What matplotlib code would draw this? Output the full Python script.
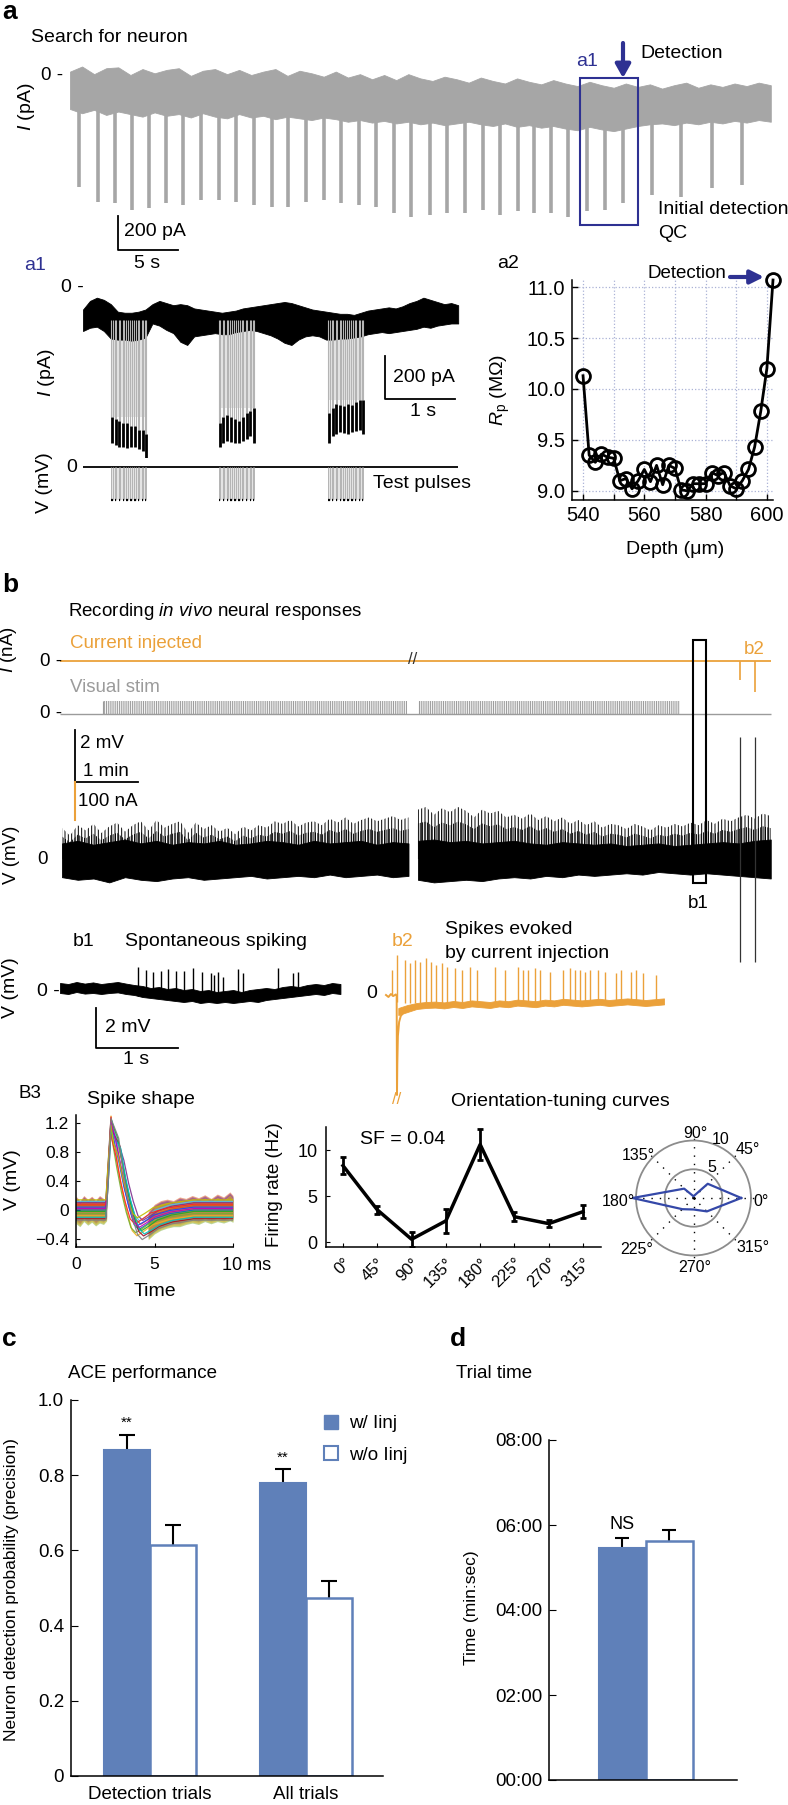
import numpy as np
import matplotlib
matplotlib.use('Agg')
import matplotlib.pyplot as plt
from matplotlib.patches import Rectangle, Patch
from matplotlib.ticker import FuncFormatter

plt.rcParams.update({
    'font.family': ['Liberation Sans', 'DejaVu Sans'],
    'mathtext.fontset': 'custom',
    'mathtext.rm': 'Liberation Sans',
    'mathtext.it': 'Liberation Sans:italic',
    'hatch.linewidth': 0.7,
    'axes.linewidth': 1.1,
})

# ---------------- data ----------------
a_upper = [20, 50, 5, 40, 45, 0, 35, 10, 30, 40, -5, 25, 35, 5, 30, 0, 20, 35, -5, 25,
           10, -10, 20, -15, 5, -25, 0, -30, 5, -20, -35, -10, -25, -45, -15, -35, -50, -20, -40, -55,
           -30, -50, -65, -40, -60, -75, -50, -70, -55, -80, -60, -45, -75, -55, -70, -50, -65, -45, -60]
a_lower = [-200, -225, -205, -235, -215, -230, -245, -220, -240, -230, -250, -225, -245, -255, -230, -250, -240, -260, -245, -255,
           -265, -250, -260, -275, -265, -280, -270, -285, -275, -290, -280, -295, -285, -275, -290, -300, -285, -305, -295, -310,
           -300, -315, -325, -305, -320, -330, -315, -300, -290, -285, -295, -280, -290, -275, -285, -270, -280, -265, -275]
a_pulse_t = [0.78, 2.33, 3.71, 5.14, 6.6, 7.99, 9.45, 10.9, 12.4, 13.8, 15.3, 16.8, 18.2, 19.7, 21.2, 22.6, 24.1, 25.5,
             27.0, 28.4, 30.0, 31.4, 32.9, 34.4, 35.8, 37.3, 38.7, 40.1, 41.5, 43.1, 44.6, 46.1, 48.5, 50.9, 53.5, 56.0]
a_pulse_bottom = [-659, -745, -753, -794, -782, -753, -765, -735, -735, -745, -765, -775, -775, -745, -735, -753, -765, -775,
                  -812, -835, -824, -812, -812, -794, -824, -800, -812, -812, -835, -800, -794, -753, -706, -718, -665, -647]

a1_upper = [-100, -60, -45, -55, -75, -110, -115, -115, -110, -100, -75, -60, -70, -80, -75, -80, -95, -100, -105, -110,
            -115, -110, -105, -95, -90, -85, -80, -75, -70, -65, -70, -80, -90, -100, -105, -110, -115, -120, -120, -125,
            -115, -105, -100, -95, -90, -95, -85, -70, -60, -45, -55, -65, -75, -70, -80]
a1_lower = [-200, -185, -180, -200, -235, -240, -240, -245, -240, -230, -165, -175, -195, -210, -250, -265, -225, -220, -215, -210,
            -215, -215, -205, -200, -195, -200, -210, -220, -235, -255, -265, -240, -225, -220, -225, -240, -240, -235, -235, -230,
            -225, -215, -210, -205, -210, -205, -200, -195, -190, -180, -185, -175, -170, -165, -165]
a1_bursts = [[0.40, 0.455, 0.51, 0.565, 0.62, 0.675, 0.73, 0.785, 0.84, 0.885],
             [1.94, 1.995, 2.05, 2.105, 2.16, 2.215, 2.27, 2.325, 2.38, 2.425],
             [3.50, 3.555, 3.61, 3.665, 3.72, 3.775, 3.83, 3.885, 3.94, 3.985]]
a1_pulse_top = [[-600, -610, -620, -630, -630, -640, -640, -660, -660, -680],
                [-630, -600, -590, -600, -610, -620, -600, -580, -570, -560],
                [-580, -560, -540, -545, -550, -540, -545, -530, -520, -520]]
a1_pulse_bot = [[-720, -730, -740, -740, -745, -740, -740, -750, -760, -790],
                [-740, -720, -710, -715, -720, -720, -710, -700, -690, -720],
                [-720, -690, -680, -670, -675, -680, -670, -665, -660, -680]]
a1_test_pulse_mV = -10

depth_um = [540, 542, 544, 546, 548, 550, 552, 554, 556, 558, 560, 562, 564, 566, 568, 570,
            572, 574, 576, 578, 580, 582, 584, 586, 588, 590, 592, 594, 596, 598, 600, 602]
rp_mohm = [10.13, 9.35, 9.28, 9.36, 9.33, 9.32, 9.10, 9.12, 9.02, 9.10, 9.21, 9.09, 9.25, 9.06, 9.25, 9.22,
           9.01, 9.00, 9.07, 9.07, 9.07, 9.18, 9.15, 9.18, 9.05, 9.02, 9.10, 9.21, 9.43, 9.78, 10.20, 11.07]

b_cur_spike_t = [10.76, 11.0]
b_cur_spike_nA = [-50, -82]
b_stim_blocks = [(0.65, 5.48), (5.67, 9.81)]
b_seg1 = (0.0, 5.5)
b_seg2 = (5.65, 11.25)
b_up1 = [0.6, 0.7, 0.55, 0.65, 0.75, 0.6, 0.7, 0.55, 0.65, 0.6, 0.7, 0.55, 0.6, 0.7, 0.65, 0.55, 0.7, 0.6, 0.65, 0.7, 0.55, 0.65, 0.6]
b_lo1 = [-0.7, -0.8, -0.75, -0.9, -0.7, -0.8, -0.85, -0.75, -0.7, -0.8, -0.75, -0.7, -0.65, -0.75, -0.7, -0.65, -0.7, -0.6, -0.7, -0.65, -0.6, -0.7, -0.65]
b_up2 = [0.7, 0.75, 0.65, 0.7, 0.6, 0.65, 0.7, 0.6, 0.55, 0.65, 0.6, 0.55, 0.6, 0.5, 0.55, 0.6, 0.5, 0.55, 0.6, 0.65, 0.6, 0.7, 0.75]
b_lo2 = [-0.8, -0.9, -0.85, -0.8, -0.85, -0.75, -0.7, -0.75, -0.65, -0.7, -0.6, -0.65, -0.6, -0.55, -0.6, -0.5, -0.55, -0.6, -0.55, -0.6, -0.65, -0.7, -0.75]
b_top1 = [1.2, 0.9, 1.3, 1.1, 1.35, 1.0, 1.25, 1.4, 1.05, 1.3, 1.45, 1.1, 1.5, 1.2, 1.35, 1.45, 1.0, 1.4, 1.15, 1.3,
          1.05, 1.2, 0.95, 1.25, 1.1, 1.3, 1.2, 1.45, 1.35, 1.5, 1.25, 1.4, 1.45, 1.3, 1.55, 1.4, 1.6, 1.35, 1.5, 1.6,
          1.45, 1.55, 1.65, 1.5, 1.6]
b_top2 = [1.9, 2.0, 1.7, 1.95, 1.8, 2.0, 1.85, 1.6, 1.9, 1.75, 1.85, 1.6, 1.7, 1.55, 1.75, 1.5, 1.65, 1.45, 1.6, 1.35,
          1.5, 1.3, 1.45, 1.2, 1.35, 1.3, 1.15, 1.35, 1.25, 1.1, 1.3, 1.2, 1.35, 1.25, 1.4, 1.3, 1.5, 1.35, 1.55, 1.45,
          1.6, 1.7, 1.55, 1.75, 1.65]
b_small_frac = 0.72   # height of the denser, smaller-spike layer relative to the tallest spikes
b_big_spike_t = [10.76, 11.0]
b_big_spike_range = (-3.96, 4.7)

b1_upper = [0.45, 0.4, 0.5, 0.42, 0.48, 0.4, 0.45, 0.5, 0.42, 0.35, 0.3, 0.2, 0.25, 0.15, 0.2, 0.1, 0.15, 0.05, 0.1, 0.0,
            0.05, 0.1, 0.0, 0.1, 0.15, 0.2, 0.15, 0.25, 0.3, 0.25, 0.35, 0.4, 0.35, 0.45, 0.4]
b1_lower = [-0.05, -0.1, 0.0, -0.08, -0.05, -0.1, -0.05, -0.02, -0.1, -0.15, -0.25, -0.3, -0.35, -0.4, -0.45, -0.5, -0.45, -0.55, -0.5, -0.55,
            -0.5, -0.55, -0.5, -0.45, -0.5, -0.4, -0.35, -0.3, -0.25, -0.2, -0.15, -0.1, -0.15, -0.05, -0.1]
b1_spike_t = [0.95, 1.05, 1.13, 1.23, 1.32, 1.41, 1.51, 1.62, 1.73, 1.84, 1.88, 1.93, 1.99, 2.17, 2.23, 2.66, 2.84, 2.9]
b1_spike_top = [1.27, 1.1, 1.02, 1.07, 1.13, 1.07, 1.07, 1.18, 1.02, 0.93, 0.85, 1.02, 0.77, 1.13, 0.93, 1.18, 0.93, 1.02]

b2_tr_t = [0.0, 0.03, 0.06, 0.09, 0.12, 0.13, 0.134, 0.138, 0.145, 0.16, 0.18, 0.22, 0.3]
b2_tr_v = [0.05, -0.05, 0.1, 0.0, 0.08, 0.0, -4.95, -3.4, -2.0, -1.3, -1.0, -0.8, -0.6]
b2_upper = [-0.6, -0.45, -0.35, -0.3, -0.28, -0.32, -0.25, -0.3, -0.22, -0.26, -0.3, -0.22, -0.26, -0.18, -0.22,
            -0.26, -0.18, -0.22, -0.14, -0.18, -0.22, -0.18, -0.14, -0.2, -0.16, -0.12, -0.16, -0.2, -0.16, -0.12]
b2_lower = [-0.95, -0.8, -0.65, -0.6, -0.58, -0.62, -0.55, -0.6, -0.52, -0.56, -0.6, -0.52, -0.56, -0.48, -0.52,
            -0.56, -0.48, -0.52, -0.44, -0.48, -0.52, -0.48, -0.44, -0.5, -0.46, -0.42, -0.46, -0.5, -0.46, -0.42]
b2_spike_t = [0.073, 0.134, 0.232, 0.293, 0.354, 0.415, 0.488, 0.549, 0.61, 0.683, 0.744, 0.841, 0.927, 1.024, 1.11, 1.33, 1.45,
              1.61, 1.67, 1.73, 1.82, 1.88, 2.0, 2.16, 2.24, 2.3, 2.37, 2.43, 2.49, 2.59, 2.67, 2.8, 2.87, 2.99, 3.05, 3.13, 3.29]
b2_spike_base = [0.0, -0.3] + [-0.35] * 35
b2_spike_top = [1.3, 2.05, 1.8, 1.63, 1.8, 1.72, 1.88, 1.72, 1.55, 1.63, 1.47, 1.38, 1.3, 1.47, 1.3, 1.47, 1.3, 1.47, 1.3, 1.3, 1.38,
                1.3, 1.22, 1.3, 1.38, 1.3, 1.3, 1.22, 1.3, 1.3, 1.22, 1.13, 1.3, 1.22, 1.3, 1.13, 1.05]

sp_t = [0, 1.9, 2.05, 2.23, 2.5, 2.8, 3.1, 3.4, 3.7, 4.0, 4.5, 5.0, 6.0, 7.5, 10]
sp_v = [0, 0, 0.55, 1.27, 1.0, 0.65, 0.3, 0.02, -0.2, -0.27, -0.2, -0.12, -0.05, 0, 0]
sp_fall = [0, 0, 0, 0, 1, 1, 1, 1, 1, 1, 1, 1, 0.5, 0, 0]
sp_dt = [0.0, 0.12, -0.12, 0.25, -0.2, 0.06, 0.3, -0.05, 0.18, -0.25, 0.35, 0.03, -0.1, 0.22]
sp_scale = [1.0, 0.95, 1.02, 0.9, 0.97, 1.0, 0.88, 0.93, 0.98, 1.01, 0.85, 0.96, 0.92, 0.99]
sp_dv = [0.0, 0.06, -0.08, 0.1, -0.05, 0.12, -0.12, 0.04, -0.02, 0.08, -0.1, 0.02, 0.14, -0.14]
sp_colors = ['#0072BD', '#D95319', '#EDB120', '#7E2F8E', '#77AC30', '#4DBEEE', '#A2142F',
             '#1f3fff', '#22aa22', '#ff2222', '#00bfbf', '#bf00bf', '#bfbf00', '#808080']
noise_t1 = [0.0, 0.25, 0.5, 0.75, 1.0, 1.25, 1.5, 1.75, 1.95]
noise_up1 = [0.16, 0.1, 0.17, 0.12, 0.16, 0.11, 0.17, 0.13, 0.1]
noise_lo1 = [-0.16, -0.2, -0.13, -0.18, -0.14, -0.19, -0.15, -0.17, -0.12]
noise_t2 = [4.6, 5.0, 5.4, 5.8, 6.2, 6.6, 7.0, 7.4, 7.8, 8.2, 8.6, 9.0, 9.4, 9.8, 10.0]
noise_up2 = [-0.05, 0.05, 0.1, 0.12, 0.1, 0.15, 0.13, 0.17, 0.14, 0.18, 0.13, 0.19, 0.15, 0.22, 0.17]
noise_lo2 = [-0.38, -0.3, -0.25, -0.22, -0.2, -0.2, -0.17, -0.15, -0.17, -0.13, -0.16, -0.13, -0.15, -0.12, -0.14]
noise_colors = ['#4DBEEE', '#D95319', '#77AC30', '#7E2F8E', '#EDB120']
noise_off = [0.0, 0.03, -0.03, 0.015, -0.015]

ori_deg = [0, 45, 90, 135, 180, 225, 270, 315]
ori_rate = [8.3, 3.5, 0.3, 2.3, 10.6, 2.75, 2.0, 3.3]
ori_err = [0.9, 0.4, 0.8, 1.3, 1.7, 0.5, 0.4, 0.7]

c_groups = ['Detection trials', 'All trials']
c_with = [0.868, 0.778]
c_with_err = [0.04, 0.038]
c_without = [0.615, 0.473]
c_without_err = [0.052, 0.046]
d_with, d_with_err = 5.47, 0.22
d_without, d_without_err = 5.62, 0.27

# ---------------- styling ----------------
BLUE = '#2E3192'
BAR = '#5F80B9'
ORANGE = '#EBA13A'
GRAY = '#a6a6a6'
STIMGRAY = '#9b9b9b'

W, H = 788, 1805
fig = plt.figure(figsize=(W / 100, H / 100), dpi=100)


def add_ax(x0, y0, x1, y1, **kw):
    return fig.add_axes([x0 / W, 1 - y1 / H, (x1 - x0) / W, (y1 - y0) / H], **kw)


def trace_ax(x0, y0, x1, y1, xo, xs, yo, ys):
    ax = add_ax(x0, y0, x1, y1)
    ax.set_xlim((x0 - xo) / xs, (x1 - xo) / xs)
    ax.set_ylim((yo - y1) / ys, (yo - y0) / ys)
    ax.axis('off')
    return ax


# ---------- panel a ----------
axA = trace_ax(60, 55, 778, 262, xo=70, xs=12, yo=75, ys=0.17)
tA = np.linspace(0, 58.4, len(a_upper))
axA.fill_between(tA, a_lower, a_upper, color=GRAY, lw=0.6)
axA.vlines(a_pulse_t, -150, a_pulse_bottom, color=GRAY, lw=2.6)
axA.plot([4.0, 4.0, 9.0], [-829, -1029, -1029], color='k', lw=1.3, clip_on=False)

# ---------- panel a1 ----------
ax1I = trace_ax(80, 278, 464, 458, xo=83, xs=70, yo=288, ys=0.215)
t1 = np.linspace(0, 5.36, len(a1_upper))
ax1I.fill_between(t1, a1_lower, a1_upper, color='k', lw=0.6)
for bt, tops, bots in zip(a1_bursts, a1_pulse_top, a1_pulse_bot):
    bt = np.array(bt)
    ax1I.fill_between([bt[0], bt[-1] + 0.022], -200, max(tops), color='#e4e4e4', lw=0, zorder=0)
    ax1I.vlines(bt, -150, tops, color='#b4b4b4', lw=0.8)
    ax1I.vlines(bt + 0.022, -150, tops, color='#b4b4b4', lw=0.8)
    ax1I.vlines(bt + 0.011, tops, bots, color='k', lw=2.0)
ax1I.plot([4.314, 4.314, 5.314], [-316, -516, -516], color='k', lw=1.3, clip_on=False)

ax1V = trace_ax(80, 458, 464, 512, xo=83, xs=70, yo=467, ys=3.3)
ax1V.hlines(0, 0, 5.36, color='k', lw=1.3)
for bt in a1_bursts:
    bt = np.array(bt)
    ax1V.fill_between([bt[0], bt[-1] + 0.022], a1_test_pulse_mV, 0, color='#e4e4e4', lw=0, zorder=0)
    ax1V.vlines(bt, a1_test_pulse_mV, 0, color='#b4b4b4', lw=0.7)
    ax1V.vlines(bt + 0.022, a1_test_pulse_mV, 0, color='#b4b4b4', lw=0.7)
    ax1V.hlines(np.full(len(bt), a1_test_pulse_mV), bt, bt + 0.022, color='k', lw=1.6)

# ---------- panel a2 ----------
ax2 = add_ax(572, 280, 773, 500)
ax2.plot(depth_um, rp_mohm, '-o', color='k', mfc='none', mew=2, ms=10, lw=2, clip_on=False, zorder=3)
ax2.set_xlim(536.4, 602)
ax2.set_ylim(8.91, 11.07)
ax2.set_xticks([540, 560, 580, 600])
ax2.set_xticks([550, 570, 590], minor=True)
ax2.set_yticks([9.0, 9.5, 10.0, 10.5, 11.0])
ax2.set_yticklabels(['9.0', '9.5', '10.0', '10.5', '11.0'])
ax2.grid(True, which='both', color='#aab2d6', ls=':', lw=0.9)
for s in ['top', 'right']:
    ax2.spines[s].set_visible(False)
ax2.tick_params(which='both', direction='in', length=4, width=1, labelsize=14.5, pad=5)
ax2.tick_params(axis='x', pad=4)

# ---------- panel b ----------
bI = trace_ax(60, 640, 778, 700, xo=62, xs=63, yo=661, ys=0.38)
bI.hlines(0, -0.03, 11.25, color=ORANGE, lw=1.3)
bI.vlines(b_cur_spike_t, b_cur_spike_nA, 0, color=ORANGE, lw=1.2)

bS = trace_ax(60, 694, 778, 722, xo=62, xs=63, yo=714, ys=13)
bS.hlines(0, -0.03, 11.25, color=STIMGRAY, lw=1.0)
for (s0, s1) in b_stim_blocks:
    bS.fill_between([s0, s1], 0, 1, facecolor='none', edgecolor=STIMGRAY, hatch='|||||||||', lw=0)
    bS.vlines([s0], 0, 1, color=STIMGRAY, lw=0.8)

bV = trace_ax(40, 720, 778, 968, xo=62, xs=63, yo=859, ys=26)
for (seg, up, lo, top) in [(b_seg1, b_up1, b_lo1, b_top1), (b_seg2, b_up2, b_lo2, b_top2)]:
    tb = np.linspace(seg[0], seg[1], len(up))
    tt = np.linspace(seg[0], seg[1], len(top))
    bV.fill_between(tt, 0, top, facecolor='none', edgecolor='k', hatch='|||||', lw=0)
    bV.fill_between(tt, 0, np.array(top) * b_small_frac, facecolor='none', edgecolor='k', hatch='|||||||', lw=0)
    bV.fill_between(tb, lo, up, color='k', lw=0.6)
bV.vlines(b_big_spike_t, b_big_spike_range[0], b_big_spike_range[1], color='#333333', lw=0.9)
bV.plot([0.206, 0.206, 1.206], [4.96, 2.96, 2.96], color='k', lw=1.3, clip_on=False)
bV.plot([0.206, 0.206], [2.96, 2.96 - 38 / 26], color=ORANGE, lw=1.5, clip_on=False)

# ---------- panel b1 ----------
b1 = trace_ax(55, 950, 345, 1065, xo=60, xs=82, yo=992, ys=20)
tb1 = np.linspace(0, 3.42, len(b1_upper))
b1.fill_between(tb1, b1_lower, b1_upper, color='k', lw=0.6)
b1.vlines(b1_spike_t, -0.2, b1_spike_top, color='k', lw=1.0)
b1.plot([0.439, 0.439, 1.439], [-0.8, -2.8, -2.8], color='k', lw=1.3, clip_on=False)

# ---------- panel b2 ----------
b2 = trace_ax(370, 945, 670, 1105, xo=386, xs=82, yo=996, ys=20)
b2.plot(b2_tr_t, b2_tr_v, color=ORANGE, lw=1.4)
tb2 = np.linspace(0.15, 3.39, len(b2_upper))
b2.fill_between(tb2, b2_lower, b2_upper, color=ORANGE, lw=0.6)
b2.vlines(b2_spike_t, b2_spike_base, b2_spike_top, color=ORANGE, lw=1.0)

# ---------- B3 spike shape ----------
axS = add_ax(76, 1115, 233, 1247)
for off, col in zip(noise_off, noise_colors):
    axS.fill_between(noise_t1, np.array(noise_lo1) + off, np.array(noise_up1) + off, color=col, alpha=0.5, lw=0)
    axS.fill_between(noise_t2, np.array(noise_lo2) + off, np.array(noise_up2) + off, color=col, alpha=0.5, lw=0)
spike_mask = np.array([0 if abs(v) > 0.9 else 1 for v in sp_v])
for dt, sc, dv, col in zip(sp_dt, sp_scale, sp_dv, sp_colors):
    tt = np.array(sp_t) + dt * np.array(sp_fall)
    axS.plot(tt, np.array(sp_v) * sc + dv * spike_mask, color=col, lw=0.9, alpha=0.9)
axS.set_xlim(0, 10)
axS.set_ylim(-0.51, 1.31)
axS.set_yticks([-0.4, 0, 0.4, 0.8, 1.2])
axS.set_yticklabels(['\u22120.4', '0', '0.4', '0.8', '1.2'])
axS.set_xticks([0, 5, 10])
axS.set_xticklabels(['0', '5', ''])
for s in ['top', 'right']:
    axS.spines[s].set_visible(False)
axS.tick_params(direction='in', length=3, labelsize=12.5, pad=5)
axS.tick_params(axis='x', pad=7)

# ---------- orientation tuning ----------
axO = add_ax(326, 1127, 601, 1247)
axO.errorbar(ori_deg, ori_rate, yerr=ori_err, color='k', lw=2.5, elinewidth=2, capsize=2.5, capthick=2)
axO.set_xlim(-22.3, 338.6)
axO.set_ylim(-0.54, 12.5)
axO.set_xticks(ori_deg)
axO.set_xticklabels([f'{d}\u00b0' for d in ori_deg], rotation=45, ha='right', va='top', rotation_mode='anchor')
axO.set_yticks([0, 5, 10])
for s in ['top', 'right']:
    axO.spines[s].set_visible(False)
axO.tick_params(direction='in', length=3, labelsize=13)
axO.tick_params(axis='x', pad=6, labelsize=12)
axO.tick_params(axis='y', pad=6)

# ---------- polar ----------
axP = add_ax(632, 1136.5, 755, 1259.5, projection='polar')
th = np.deg2rad(ori_deg + [ori_deg[0]])
axP.plot(th, ori_rate + [ori_rate[0]], color='#3448a8', lw=1.6)
axP.set_ylim(0, 10.7)
axP.set_yticks([5, 10])
axP.set_yticklabels([])
axP.set_xticks(np.deg2rad(ori_deg))
axP.set_xticklabels([])
axP.xaxis.grid(True, color='k', lw=1.0, ls=(0, (1, 5)))
axP.yaxis.grid(True, color='#8c8c8c', lw=1.3, ls='-')
axP.spines['polar'].set_visible(False)

# ---------- panel c ----------
axC = add_ax(71, 1400, 383, 1776)
xc = np.array([1, 2])
wc = 0.295
axC.errorbar(xc - wc / 2, c_with, yerr=c_with_err, fmt='none', ecolor='k', elinewidth=1.5, capsize=6, capthick=1.5, zorder=1)
axC.errorbar(xc + wc / 2, c_without, yerr=c_without_err, fmt='none', ecolor='k', elinewidth=1.5, capsize=6, capthick=1.5, zorder=1)
axC.bar(xc - wc / 2, c_with, wc, color=BAR, edgecolor=BAR, lw=1.5, zorder=2)
axC.bar(xc + wc / 2, c_without, wc, color='white', edgecolor=BAR, lw=1.8, zorder=2)
axC.set_xlim(0.494, 2.494)
axC.set_ylim(0, 1.0)
axC.set_yticks([0, 0.2, 0.4, 0.6, 0.8, 1.0])
axC.set_yticklabels(['0', '0.2', '0.4', '0.6', '0.8', '1.0'])
axC.set_xticks(xc)
axC.set_xticklabels(c_groups)
for s in ['top', 'right']:
    axC.spines[s].set_visible(False)
axC.tick_params(axis='y', direction='in', length=5, labelsize=13.5, pad=5)
axC.tick_params(axis='x', length=0, labelsize=13.5, pad=7)
axC.legend(handles=[Patch(facecolor=BAR, edgecolor=BAR), Patch(facecolor='white', edgecolor=BAR, lw=1.5)],
           labels=['w/ Iinj', 'w/o Iinj'], loc='upper left', bbox_to_anchor=(0.78, 0.985), frameon=False,
           fontsize=13.5, handlelength=0.75, handleheight=0.75, handletextpad=0.6, labelspacing=0.75, borderpad=0)
for i, g in enumerate(xc):
    axC.text(g - wc / 2, c_with[i] + c_with_err[i] + 0.012, '**', ha='center', va='bottom', fontsize=11)

# ---------- panel d ----------
axD = add_ax(549, 1440, 737, 1780)
wd = 0.3
axD.errorbar([1 - wd / 2], [d_with], yerr=[d_with_err], fmt='none', ecolor='k', elinewidth=1.5, capsize=5, capthick=1.5, zorder=1)
axD.errorbar([1 + wd / 2], [d_without], yerr=[d_without_err], fmt='none', ecolor='k', elinewidth=1.5, capsize=5, capthick=1.5, zorder=1)
axD.bar([1 - wd / 2], [d_with], wd, color=BAR, edgecolor=BAR, lw=1.5, zorder=2)
axD.bar([1 + wd / 2], [d_without], wd, color='white', edgecolor=BAR, lw=1.8, zorder=2)
axD.set_xlim(0.381, 1.581)
axD.set_ylim(0, 8)
axD.set_yticks([0, 2, 4, 6, 8])
axD.yaxis.set_major_formatter(FuncFormatter(lambda v, p: f'{int(v):02d}:00'))
axD.set_xticks([])
for s in ['top', 'right']:
    axD.spines[s].set_visible(False)
axD.tick_params(axis='y', direction='in', length=5, labelsize=13.5, pad=5)
axD.text(1 - wd / 2, d_with + d_with_err + 0.12, 'NS', ha='center', va='bottom', fontsize=13)

# ---------- overlay texts ----------
ov = fig.add_axes([0, 0, 1, 1])
ov.set_xlim(0, W)
ov.set_ylim(H, 0)
ov.axis('off')
ov.set_zorder(20)


def T(x, y, s, ha='left', va='center', size=13.5, **kw):
    ov.text(x, y, s, ha=ha, va=va, fontsize=size, **kw)


T(2, 12, 'a', size=19, weight='bold')
T(31, 38, 'Search for neuron', size=14)
T(63, 75, '0 -', ha='right')
T(27, 107, '$I$ (pA)', ha='center', rotation=90, size=14)
T(587, 62, 'a1', ha='center', color=BLUE, size=14)
T(640, 53, 'Detection', size=14)
ov.annotate('', xy=(623, 78), xytext=(623, 43),
            arrowprops=dict(arrowstyle='-|>,head_length=0.8,head_width=0.45', color=BLUE, lw=3, shrinkA=0, shrinkB=0))
ov.add_patch(Rectangle((580, 78), 58, 147, fill=False, edgecolor=BLUE, lw=1.5))
T(658, 210, 'Initial detection', size=14)
T(658, 234, 'QC', size=14)
T(124, 232, '200 pA', size=14)
T(147, 263, '5 s', ha='center', size=14)
T(35, 265, 'a1', ha='center', color=BLUE, size=14)
T(84, 288, '0 -', ha='right', size=14)
T(47, 373, '$I$ (pA)', ha='center', rotation=90, size=14)
T(393, 377, '200 pA', size=14)
T(423, 412, '1 s', ha='center', size=14)
T(72, 467, '0', ha='center', size=14)
T(45, 483, 'V (mV)', ha='center', rotation=90, size=14)
T(373, 483, 'Test pulses', size=14)
T(508, 263, 'a2', ha='center', size=14)
T(726, 273, 'Detection', ha='right', size=13.5)
ov.annotate('', xy=(764, 277), xytext=(730, 277),
            arrowprops=dict(arrowstyle='-|>,head_length=0.8,head_width=0.4', color=BLUE, lw=3, shrinkA=0, shrinkB=0))
T(500, 390, '$R_\\mathrm{p}$ (M\u03a9)', ha='center', rotation=90, size=14)
T(675, 549, 'Depth (\u03bcm)', ha='center', size=14)
T(2, 585, 'b', size=19, weight='bold')
T(68, 611, 'Recording $\\it{in\\ vivo}$ neural responses', size=13.5)
T(9, 650, '$I$ (nA)', ha='center', rotation=90, size=13.5)
T(70, 643, 'Current injected', color=ORANGE, size=13.5)
T(62, 661, '0 -', ha='right', size=13.5)
T(413, 660, '//', ha='center', size=12, color='#333333')
T(754, 650, 'b2', ha='center', color=ORANGE, size=13.5)
T(70, 688, 'Visual stim', color=STIMGRAY, size=13.5)
T(62, 714, '0 -', ha='right', size=13.5)
T(80, 743, '2 mV', size=13.5)
T(106, 772, '1 min', ha='center', size=13.5)
T(78, 802, '100 nA', size=13.5)
T(43, 860, '0', ha='center', size=13.5)
T(12, 855, 'V (mV)', ha='center', rotation=90, size=13.5)
ov.add_patch(Rectangle((693, 640), 13, 243, fill=False, edgecolor='k', lw=1.5))
T(698, 903, 'b1', ha='center', size=13.5)
T(84, 941, 'b1', ha='center', size=14)
T(125, 941, 'Spontaneous spiking', size=14)
T(60, 992, '0 -', ha='right', size=14)
T(11, 988, 'V (mV)', ha='center', rotation=90, size=14)
T(105, 1028, '2 mV', size=14)
T(136, 1060, '1 s', ha='center', size=14)
T(403, 942, 'b2', ha='center', color=ORANGE, size=14)
T(445, 930, 'Spikes evoked', size=14)
T(445, 953, 'by current injection', size=14)
T(372, 994, '0', ha='center', size=14)
T(397, 1100, '//', ha='center', color=ORANGE, size=12)
T(30, 1093, 'B3', ha='center', size=13.5)
T(141, 1100, 'Spike shape', ha='center', size=14)
T(13, 1180, 'V (mV)', ha='center', rotation=90, size=14)
T(155, 1292, 'Time', ha='center', size=14)
T(222, 1265, '10 ms', ha='left', size=13)
T(560, 1101, 'Orientation-tuning curves', ha='center', size=14)
T(360, 1140, 'SF = 0.04', size=14)
T(275, 1185, 'Firing rate (Hz)', ha='center', rotation=90, size=13.5)
for (px, py, s) in [(695, 1133, '90\u00b0'), (748, 1150, '45\u00b0'), (638, 1155, '135\u00b0'), (618, 1202, '180\u00b0'),
                    (761, 1202, '0\u00b0'), (637, 1250, '225\u00b0'), (695, 1268, '270\u00b0'), (753, 1247, '315\u00b0'),
                    (721, 1140, '10'), (712, 1167, '5')]:
    T(px, py, s, ha='center', size=11.5)
T(2, 1339, 'c', size=19, weight='bold')
T(68, 1373, 'ACE performance', size=13.5)
T(12, 1590, 'Neuron detection probability (precision)', ha='center', rotation=90, size=12.5)
T(450, 1339, 'd', size=19, weight='bold')
T(456, 1373, 'Trial time', size=13.5)
T(472, 1608, 'Time (min:sec)', ha='center', rotation=90, size=12.5)

fig.savefig('out.png', dpi=100)
